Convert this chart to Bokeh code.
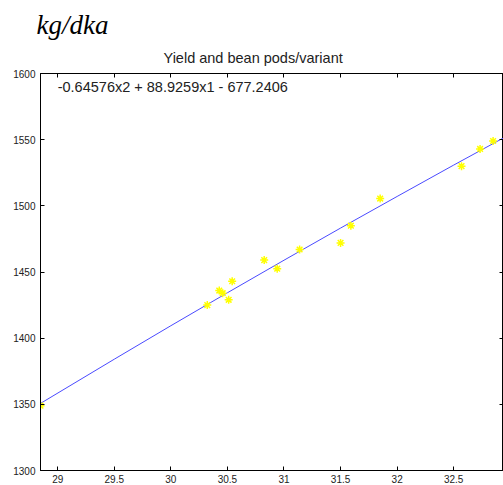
from bokeh.plotting import figure
from bokeh.models import (Range1d, LinearAxis, FixedTicker, Title, Label,
                          CustomLabelingPolicy)
from bokeh.embed import file_html
from bokeh.resources import INLINE

# data
pods = [28.848, 30.322, 30.428, 30.458, 30.511, 30.542, 30.825, 30.94,
        31.138, 31.50, 31.591, 31.85, 32.569, 32.733, 32.848]
yield_kg = [1349, 1425, 1436, 1434, 1429, 1443, 1459, 1452.5,
            1467, 1472, 1485, 1505.5, 1530, 1543, 1549]

fit_x = [28.85, 29.5, 30.0, 30.5, 31.0, 31.5, 32.0, 32.5, 33.0]
fit_y = [1350.8, 1384.1, 1409.4, 1434.3, 1458.9, 1483.2, 1507.1, 1530.8, 1554.1]

x_ticks = [29, 29.5, 30, 30.5, 31, 31.5, 32, 32.5]
x_tick_labels = ["29", "29.5", "30", "30.5", "31", "31.5", "32", "32.5"]
y_ticks = [1300, 1350, 1400, 1450, 1500, 1550, 1600]
y_tick_labels = ["1300", "1350", "1400", "1450", "1500", "1550", "1600"]

title_text = "Yield and bean pods/variant"
unit_text = "kg/dka"
equation_text = "-0.64576x2 + 88.9259x1 - 677.2406"

p = figure(width=503, height=485, output_backend="svg", toolbar_location=None,
           x_range=Range1d(28.848, 32.94), y_range=Range1d(1300, 1600),
           min_border_left=40, min_border_right=0, min_border_bottom=15,
           min_border_top=73, title=None)
p.background_fill_color = "white"
p.border_fill_color = "white"
p.outline_line_color = "black"
p.grid.visible = False

def style_axis(ax, ticks, labels, show_labels=True):
    ax.ticker = FixedTicker(ticks=ticks)
    ax.major_tick_in = 4
    ax.major_tick_out = 0
    ax.minor_tick_line_color = None
    ax.axis_line_color = "black"
    ax.major_tick_line_color = "black"
    ax.major_label_text_font = "Liberation Sans"
    ax.major_label_text_font_size = "10px"
    ax.major_label_text_color = "#222222"
    ax.major_label_standoff = 5
    if show_labels:
        ax.major_label_overrides = {t: l for t, l in zip(ticks, labels)}
    else:
        ax.major_label_overrides = {t: "" for t in ticks}
        ax.major_label_policy = CustomLabelingPolicy(code="return new Set()")
        ax.major_label_standoff = 0

style_axis(p.xaxis[0], x_ticks, x_tick_labels)
style_axis(p.yaxis[0], y_ticks, y_tick_labels)
p.xaxis[0].major_label_standoff = 4

top_ax = LinearAxis()
style_axis(top_ax, x_ticks, x_tick_labels, show_labels=False)
p.add_layout(top_ax, "above")
right_ax = LinearAxis()
style_axis(right_ax, y_ticks, y_tick_labels, show_labels=False)
p.add_layout(right_ax, "right")

t1 = Title(text=title_text, align="left", offset=123,
           text_font="Liberation Sans", text_font_size="14.5px",
           text_font_style="normal", text_color="#222222", standoff=15)
p.add_layout(t1, "above")
t2 = Title(text=unit_text, align="left", offset=-4,
           text_font="Liberation Serif", text_font_size="27px",
           text_font_style="italic", text_color="black", standoff=2)
p.add_layout(t2, "above")

p.line(fit_x, fit_y, line_color="#4a4aff", line_width=1)
p.scatter(pods, yield_kg, marker="asterisk", size=8, line_color="#ffff00",
          line_width=1.5)

eq = Label(x=29.0, y=1596, text=equation_text, text_baseline="top",
           text_font="Liberation Sans", text_font_size="14.5px",
           text_color="#222222")
p.add_layout(eq)

open("out.html", "w").write(file_html(p, INLINE))
